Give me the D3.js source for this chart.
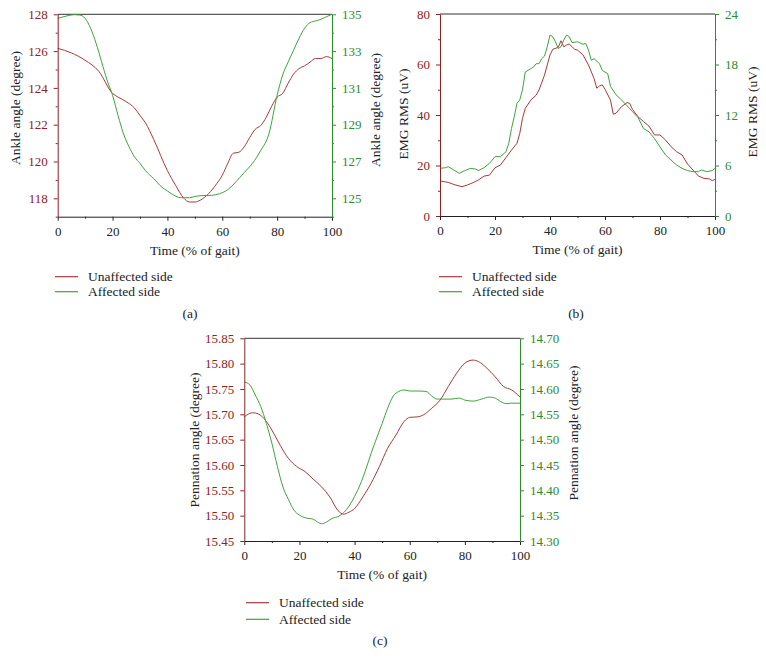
<!DOCTYPE html>
<html><head><meta charset="utf-8">
<script src="https://cdn.jsdelivr.net/npm/d3@7"></script>
<style>
body{margin:0;background:#fff;}
svg{display:block;font-family:"Liberation Serif","DejaVu Serif",serif;}
</style></head>
<body><svg id="c" width="766" height="667"></svg>
<script>
// ---------- Data ----------
// Panel (a): ankle angle
const aUnaffX = [0,5,10,15,20,22,25,28,30,32,35,40,43,46,48,50,52,55,58,60,62,64,66,68,70,72,74,76,78,80,82,84,86,88,90,92,94,96,98,100];
const aUnaffY = [126.15,125.9,125.5,124.9,123.7,123.5,123.25,122.9,122.5,122.1,121.2,119.5,118.7,118.0,117.8,117.8,117.9,118.25,118.8,119.25,119.9,120.45,120.5,120.8,121.3,121.75,121.95,122.4,123.0,123.5,123.7,124.25,124.75,125.05,125.2,125.4,125.6,125.6,125.7,125.6];
const aAffX = [0,3,6,8,10,12,14,16,18,20,22,24,26,28,30,32,35,38,40,42,45,48,50,53,56,59,62,65,68,71,74,77,80,82,84,86,88,90,92,94,96,98,100];
const aAffY = [134.78,134.9,134.98,134.96,134.78,134.24,133.42,132.42,131.42,130.6,129.5,128.5,127.8,127.25,126.9,126.5,126.07,125.6,125.4,125.2,125.03,125.03,125.1,125.15,125.16,125.25,125.47,125.9,126.4,126.9,127.6,128.5,130.6,131.7,132.4,133.05,133.7,134.24,134.55,134.64,134.73,134.87,135.0];

// Panel (b): EMG RMS
const bUnaffX = [0,3,5,8,10,12,14,16,18,20,22,24,26,28,29,30,31,33,35,36,38,40,41,43,44,45,46,47,49,50,52,54,56,57,58,59,60,62,63,64,65,66,68,69,70,72,74,76,78,80,82,84,86,88,90,92,94,96,98,99,100];
const bUnaffY = [13.9,13.3,12.5,11.6,12.3,13.2,14.3,15.8,16.2,19.1,20.2,23.2,26.1,28.8,32.7,38.7,42.6,45.9,47.9,49.9,55.8,63.8,66.0,66.8,69.4,67.0,67.7,68.1,66.0,65.7,63.8,59.8,54.5,50.6,51.5,51.9,50.2,45.9,40.3,40.7,42.0,43.3,44.9,44.6,42.2,39.3,37.4,35.6,32.1,32.1,30.1,27.5,25.5,24.2,20.6,18.2,15.8,14.9,14.7,14.0,14.5];
const bAffX = [0,2,3,5,7,9,11,13,14,16,18,20,22,24,25,26,27,28,29,30,31,33,34,35,36,37,38,39,40,41,42,43,44,45,46,47,48,50,52,53,54,55,56,58,59,60,61,62,64,66,68,70,72,74,76,78,80,82,84,86,88,90,92,94,95,97,99,100];
const bAffY = [5.66,5.74,5.86,5.47,5.07,5.39,5.66,5.58,5.39,5.74,6.26,7.05,7.05,7.64,8.63,10.4,11.8,13.4,13.8,15.0,17.1,17.5,17.7,18.1,18.1,18.7,19.0,20.1,21.5,21.3,20.7,19.9,20.1,20.9,21.5,21.3,20.6,20.7,20.4,20.5,19.7,18.5,18.7,18.1,17.3,17.1,16.9,15.4,14.4,13.8,13.1,12.4,11.7,10.4,10.0,9.2,8.2,7.25,6.65,6.06,5.66,5.39,5.27,5.27,5.47,5.27,5.39,5.66];

// Panel (c): pennation angle
const cUnaffX = [0,3,5,8,10,13,16,19,22,25,28,31,34,36,38,40,43,46,49,52,55,58,60,63,65,68,71,74,77,80,83,85,88,91,94,97,100];
const cUnaffY = [15.695,15.703,15.701,15.686,15.669,15.639,15.613,15.597,15.587,15.572,15.557,15.537,15.510,15.503,15.507,15.514,15.537,15.564,15.597,15.633,15.659,15.686,15.694,15.695,15.699,15.712,15.728,15.755,15.781,15.801,15.807,15.804,15.791,15.774,15.755,15.748,15.734];
const cAffX = [0,2,4,6,8,10,12,14,16,18,20,22,25,27,28,30,32,34,36,38,40,42,44,46,48,50,52,54,56,58,60,63,66,68,70,72,75,78,80,83,86,89,91,93,95,97,100];
const cAffY = [14.614,14.608,14.588,14.565,14.532,14.493,14.447,14.407,14.382,14.361,14.351,14.346,14.343,14.336,14.334,14.338,14.345,14.348,14.356,14.369,14.388,14.411,14.440,14.473,14.503,14.532,14.562,14.586,14.595,14.598,14.596,14.596,14.595,14.586,14.580,14.580,14.580,14.582,14.578,14.576,14.580,14.584,14.582,14.575,14.571,14.572,14.572];

const xTicks = [0,20,40,60,80,100];
const xMinor = [10,30,50,70,90];
const aLeftTicks = [118,120,122,124,126,128];
const aLeftMinor = [117,119,121,123,125,127];
const aRightTicks = [125,127,129,131,133,135];
const aRightMinor = [124,126,128,130,132,134];
const bLeftTicks = [0,20,40,60,80];
const bLeftMinor = [10,30,50,70];
const bRightTicks = [0,6,12,18,24];
const bRightMinor = [3,9,15,21];
const cLeftTicks = [15.45,15.50,15.55,15.60,15.65,15.70,15.75,15.80,15.85];
const cRightTicks = [14.30,14.35,14.40,14.45,14.50,14.55,14.60,14.65,14.70];
const legendLabels = ["Unaffected side","Affected side"];

// ---------- Styles ----------
const RED_AX = "#8e2222", GREEN_AX = "#2e8b2e";
const RED_LN = "#a83a3a", GREEN_LN = "#3ea33e";
const TICK_FS = "13px", TITLE_FS = 13.5;
const svg = d3.select("#c");

function panel(o){
  const g = svg.append("g");
  const x = d3.scaleLinear().domain([0,100]).range([o.x0,o.x1]);
  const yl = d3.scaleLinear().domain(o.ld).range([o.yb,o.yt]);
  const yr = d3.scaleLinear().domain(o.rd).range([o.yb,o.yt]);

  g.append("line").attr("x1",o.x0).attr("x2",o.x1).attr("y1",o.yt).attr("y2",o.yt)
    .attr("stroke","#333").attr("stroke-width",1);

  const lnL = d3.line().x((d,i)=>x(o.ux[i])).y(d=>yl(d)).curve(o.curve);
  const lnR = d3.line().x((d,i)=>x(o.ax[i])).y(d=>yr(d)).curve(o.curve);
  g.append("path").attr("d",lnL(o.uy)).attr("fill","none").attr("stroke",RED_LN).attr("stroke-width",1);
  g.append("path").attr("d",lnR(o.ay)).attr("fill","none").attr("stroke",GREEN_LN).attr("stroke-width",1);

  const style = (sel,col)=>{
    sel.select(".domain").attr("stroke",col);
    sel.selectAll(".tick line").attr("stroke",col);
    sel.selectAll(".tick text").attr("fill",col).style("font-size",TICK_FS)
      .style("font-family","'Liberation Serif','DejaVu Serif',serif");
  };
  const gx = g.append("g").attr("transform",`translate(0,${o.yb})`)
    .call(d3.axisBottom(x).tickValues(xTicks).tickSize(4).tickSizeOuter(0).tickPadding(6));
  style(gx,"#222");
  const gxm = g.append("g").attr("transform",`translate(0,${o.yb})`)
    .call(d3.axisBottom(x).tickValues(xMinor).tickSize(2).tickFormat(""));
  gxm.select(".domain").remove(); gxm.selectAll(".tick line").attr("stroke","#222");

  const gl = g.append("g").attr("transform",`translate(${o.x0},0)`)
    .call(d3.axisLeft(yl).tickValues(o.lt).tickSize(4).tickSizeOuter(0).tickPadding(6).tickFormat(o.lf));
  style(gl,RED_AX);
  if(o.lm){
    const m = g.append("g").attr("transform",`translate(${o.x0},0)`)
      .call(d3.axisLeft(yl).tickValues(o.lm).tickSize(2).tickFormat(""));
    m.select(".domain").remove(); m.selectAll(".tick line").attr("stroke",RED_AX);
  }
  const gr = g.append("g").attr("transform",`translate(${o.x1},0)`)
    .call(d3.axisRight(yr).tickValues(o.rt).tickSize(4).tickSizeOuter(0).tickPadding(6).tickFormat(o.rf));
  style(gr,GREEN_AX);
  if(o.rm){
    const m = g.append("g").attr("transform",`translate(${o.x1},0)`)
      .call(d3.axisRight(yr).tickValues(o.rm).tickSize(2).tickFormat(""));
    m.select(".domain").remove(); m.selectAll(".tick line").attr("stroke",GREEN_AX);
  }

  const cx = (o.x0+o.x1)/2;
  g.append("text").attr("x",cx).attr("y",o.yb+38).attr("text-anchor","middle")
    .attr("font-size",TITLE_FS).attr("fill","#222").text("Time (% of gait)");
  g.append("text").attr("transform",`translate(${o.ltx},${o.lty}) rotate(-90)`)
    .attr("text-anchor","middle").attr("dy","0.35em").attr("font-size",TITLE_FS).attr("fill","#222").text(o.title);
  g.append("text").attr("transform",`translate(${o.rtx},${o.rty}) rotate(-90)`)
    .attr("text-anchor","middle").attr("dy","0.35em").attr("font-size",TITLE_FS).attr("fill","#222").text(o.title);

  const cols = [RED_LN, GREEN_LN];
  legendLabels.forEach((lab,i)=>{
    const yy = o.legY + i*o.legDy;
    g.append("line").attr("x1",o.legX).attr("x2",o.legX+23).attr("y1",yy).attr("y2",yy)
      .attr("stroke",cols[i]).attr("stroke-width",1.2);
    g.append("text").attr("x",o.legX+33).attr("y",yy).attr("dy","0.35em")
      .attr("font-size",TITLE_FS).attr("fill","#222").text(lab);
  });
  g.append("text").attr("x",o.capX).attr("y",o.capY).attr("text-anchor","middle")
    .attr("font-size",TITLE_FS).attr("fill","#222").text(o.cap);
}

panel({x0:57.7,x1:332,yt:14.3,yb:216.7,ld:[117,128],rd:[124,135],
  ux:aUnaffX,uy:aUnaffY,ax:aAffX,ay:aAffY,curve:d3.curveMonotoneX,
  lt:aLeftTicks,lm:aLeftMinor,rt:aRightTicks,rm:aRightMinor,lf:d3.format("d"),rf:d3.format("d"),
  title:"Ankle angle (degree)",ltx:15,lty:108,rtx:375,rty:110,
  legX:55,legY:276.7,legDy:15,capX:190,capY:318,cap:"(a)"});

panel({x0:440,x1:715,yt:14,yb:216,ld:[0,80],rd:[0,24],
  ux:bUnaffX,uy:bUnaffY,ax:bAffX,ay:bAffY,curve:d3.curveLinear,
  lt:bLeftTicks,lm:bLeftMinor,rt:bRightTicks,rm:bRightMinor,lf:d3.format("d"),rf:d3.format("d"),
  title:"EMG RMS (uV)",ltx:403,lty:114,rtx:752,rty:112,
  legX:439,legY:276.7,legDy:15,capX:576,capY:318,cap:"(b)"});

panel({x0:244.3,x1:520,yt:338.3,yb:541,ld:[15.45,15.85],rd:[14.30,14.70],
  ux:cUnaffX,uy:cUnaffY,ax:cAffX,ay:cAffY,curve:d3.curveMonotoneX,
  lt:cLeftTicks,lm:null,rt:cRightTicks,rm:null,lf:d3.format(".2f"),rf:d3.format(".2f"),
  title:"Pennation angle (degree)",ltx:194,lty:440,rtx:573,rty:433,
  legX:246,legY:602.7,legDy:16.6,capX:380,capY:645,cap:"(c)"});
</script></body></html>
